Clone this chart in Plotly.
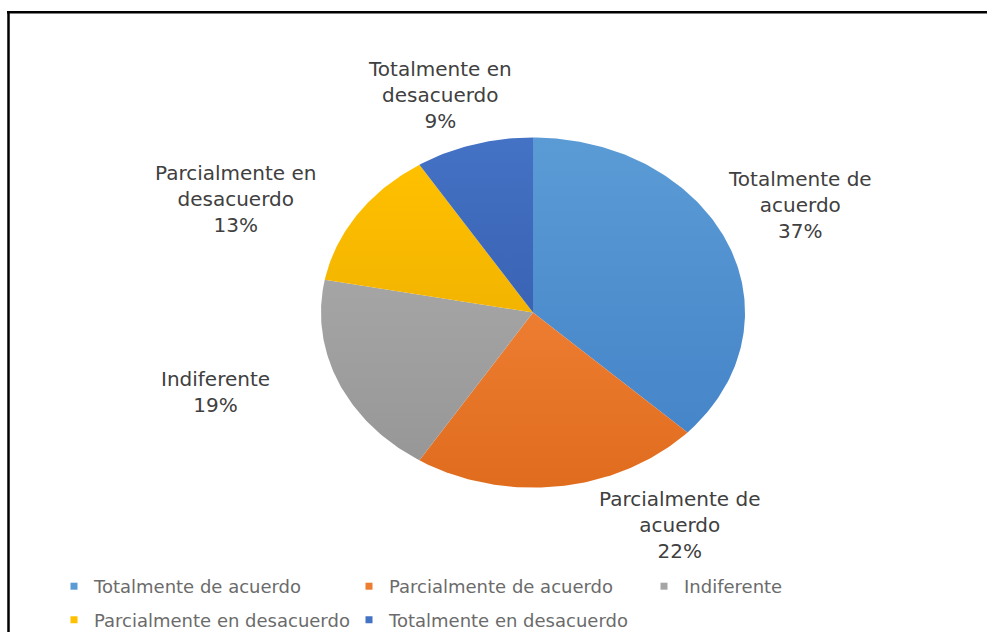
import numpy as np
import plotly.graph_objects as go

# Survey responses (share of respondents, %)
categories = [
    "Totalmente de acuerdo",
    "Parcialmente de acuerdo",
    "Indiferente",
    "Parcialmente en desacuerdo",
    "Totalmente en desacuerdo",
]
values = [37, 22, 19, 13, 9]

# Label text split over lines as it appears next to each slice
label_lines = [
    ["Totalmente de", "acuerdo"],
    ["Parcialmente de", "acuerdo"],
    ["Indiferente"],
    ["Parcialmente en", "desacuerdo"],
    ["Totalmente en", "desacuerdo"],
]

colors = ["#5B9BD5", "#ED7D31", "#A5A5A5", "#FFC000", "#4472C4"]
colors_dark = ["#4585C9", "#E06C1E", "#979797", "#F2B400", "#3A63B4"]

W, H = 987, 639
CX, CY = 533, 316          # pie centre in pixels
RX, RY = 212, 177          # pie radii in pixels (x, y)

# label centres in pixels
label_px = [(800, 207), (680, 531), (215, 396), (236, 201), (440, 96)]

fig = go.Figure()

total = sum(values)
cum = 0.0
for name, v, c, cd in zip(categories, values, colors, colors_dark):
    a0 = cum / total * 2 * np.pi
    a1 = (cum + v) / total * 2 * np.pi
    cum += v
    t = np.linspace(a0, a1, max(int(v * 4), 8))
    xs = np.concatenate([[0.0], np.sin(t), [0.0]])
    ys = np.concatenate([[0.0], np.cos(t), [0.0]])
    fig.add_trace(go.Scatter(
        x=xs, y=ys, mode="lines", fill="toself",
        line=dict(width=0, color=c),
        fillgradient=dict(type="vertical",
                          colorscale=[[0, cd], [1, c]]),
        name=name, showlegend=False, hoverinfo="name",
    ))

# legend entries: two rows
for i, (name, c) in enumerate(zip(categories, colors)):
    fig.add_trace(go.Scatter(
        x=[None], y=[None], mode="markers",
        marker=dict(symbol="square", size=7, color=c),
        name=name, legend="legend" if i < 3 else "legend2",
    ))

annotations = []
for lines, v, (px, py) in zip(label_lines, values, label_px):
    pct = f"{v / total * 100:.0f}%"
    annotations.append(dict(
        x=px / W, y=1 - py / H, xref="paper", yref="paper",
        text="<br>".join(lines + [pct]), showarrow=False,
        xanchor="center", yanchor="middle", align="center",
        font=dict(family="DejaVu Sans", size=20, color="#404040"),
    ))

legend_common = dict(
    orientation="h", xanchor="left", yanchor="middle",
    font=dict(family="DejaVu Sans", size=18, color="#6B6B6B"),
    entrywidth=250, entrywidthmode="pixels",
    bgcolor="rgba(0,0,0,0)", itemclick=False, itemdoubleclick=False,
)

fig.update_layout(
    width=W, height=H,
    margin=dict(l=0, r=0, t=0, b=0),
    paper_bgcolor="white", plot_bgcolor="white",
    xaxis=dict(range=[-CX / RX, (W - CX) / RX], visible=False, fixedrange=True),
    yaxis=dict(range=[-(H - CY) / RY, CY / RY], visible=False, fixedrange=True),
    annotations=annotations,
    legend=dict(x=54 / W, y=1 - 593 / H, **legend_common),
    legend2=dict(x=54 / W, y=1 - 627 / H, **legend_common),
    shapes=[
        dict(type="line", xref="paper", yref="paper",
             x0=7 / W, x1=1, y0=1 - 12.5 / H, y1=1 - 12.5 / H,
             line=dict(color="black", width=2.5)),
        dict(type="line", xref="paper", yref="paper",
             x0=8.5 / W, x1=8.5 / W, y0=0, y1=1 - 11.5 / H,
             line=dict(color="black", width=2.5)),
    ],
)

fig.write_html("out.html")
